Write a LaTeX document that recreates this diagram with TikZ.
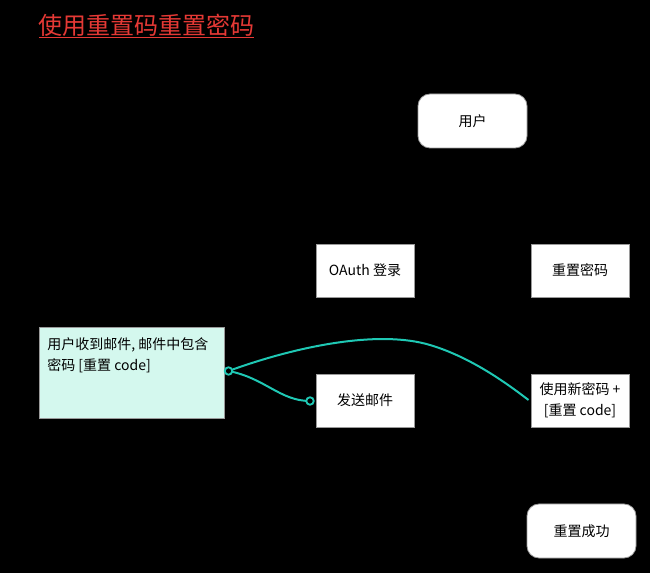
\documentclass[tikz,border=0pt]{standalone}
\usepackage{fontspec}
\setmainfont{Noto Sans CJK SC}
\usetikzlibrary{arrows.meta}
\definecolor{titlered}{HTML}{E53935}
\definecolor{notefill}{HTML}{D4F8EE}
\definecolor{teal}{HTML}{1FC8B4}
\definecolor{boxborder}{HTML}{9A9A9A}
\tikzset{
  boxnode/.style={draw=boxborder, line width=0.6pt, fill=white, inner sep=0pt, font=\fontsize{10.5}{15}\selectfont},
  rectbox/.style={boxnode, minimum width=73.5pt, minimum height=39.75pt},
  roundbox/.style={boxnode, rounded corners=9pt, minimum width=81.75pt, minimum height=40.5pt},
  notebox/.style={draw=boxborder, line width=0.6pt, fill=notefill, inner sep=0pt, minimum width=138.75pt, minimum height=68.25pt},
  flowline/.style={draw=teal, line width=1.5pt},
  endring/.style={circle, draw=teal, line width=1.4pt, fill=black, inner sep=0pt, minimum size=5.6pt},
}
\begin{document}
\begin{tikzpicture}[x=0.75pt, y=-0.75pt]
\fill[black] (0,0) rectangle (650,573);
\useasboundingbox (0,0) rectangle (650,573);
% title
\node[anchor=west, inner sep=0pt, text=titlered, font=\fontsize{18}{22}\selectfont] (title) at (38,25) {使用重置码重置密码};
\draw[titlered, line width=0.9pt] (39,37.5) -- (254,37.5);
% nodes
\node[roundbox] (user) at (472.5,121) {用户};
\node[rectbox] (oauth) at (365,270.5) {OAuth 登录};
\node[rectbox] (reset) at (580,270.5) {重置密码};
\node[notebox] (note) at (131.5,372.5) {};
\node[anchor=north west, inner sep=0pt, align=left, font=\fontsize{10.5}{15.75}\selectfont] (notetext) at (47,337) {用户收到邮件, 邮件中包含\\{密码 [重置 code]}};
\node[rectbox] (send) at (365,400.5) {发送邮件};
\node[rectbox, align=center, font=\fontsize{10.5}{15.75}\selectfont] (newpw) at (580,400.5) {使用新密码 +\\{[重置 code]}};
\node[roundbox] (done) at (581.5,531) {重置成功};
% connectors
\coordinate (start) at (228.5,371);
\coordinate (sendend) at (310,401);
\coordinate (newend) at (528.5,400);
\draw[flowline] (start) .. controls (265,378) and (280,401) .. (sendend);
\draw[flowline] (start) .. controls (300,345) and (380,330) .. (430,345) .. controls (470,357) and (505,382) .. (newend);
\node[endring] (ring1) at (start) {};
\node[endring] (ring2) at (sendend) {};
\end{tikzpicture}
\end{document}
